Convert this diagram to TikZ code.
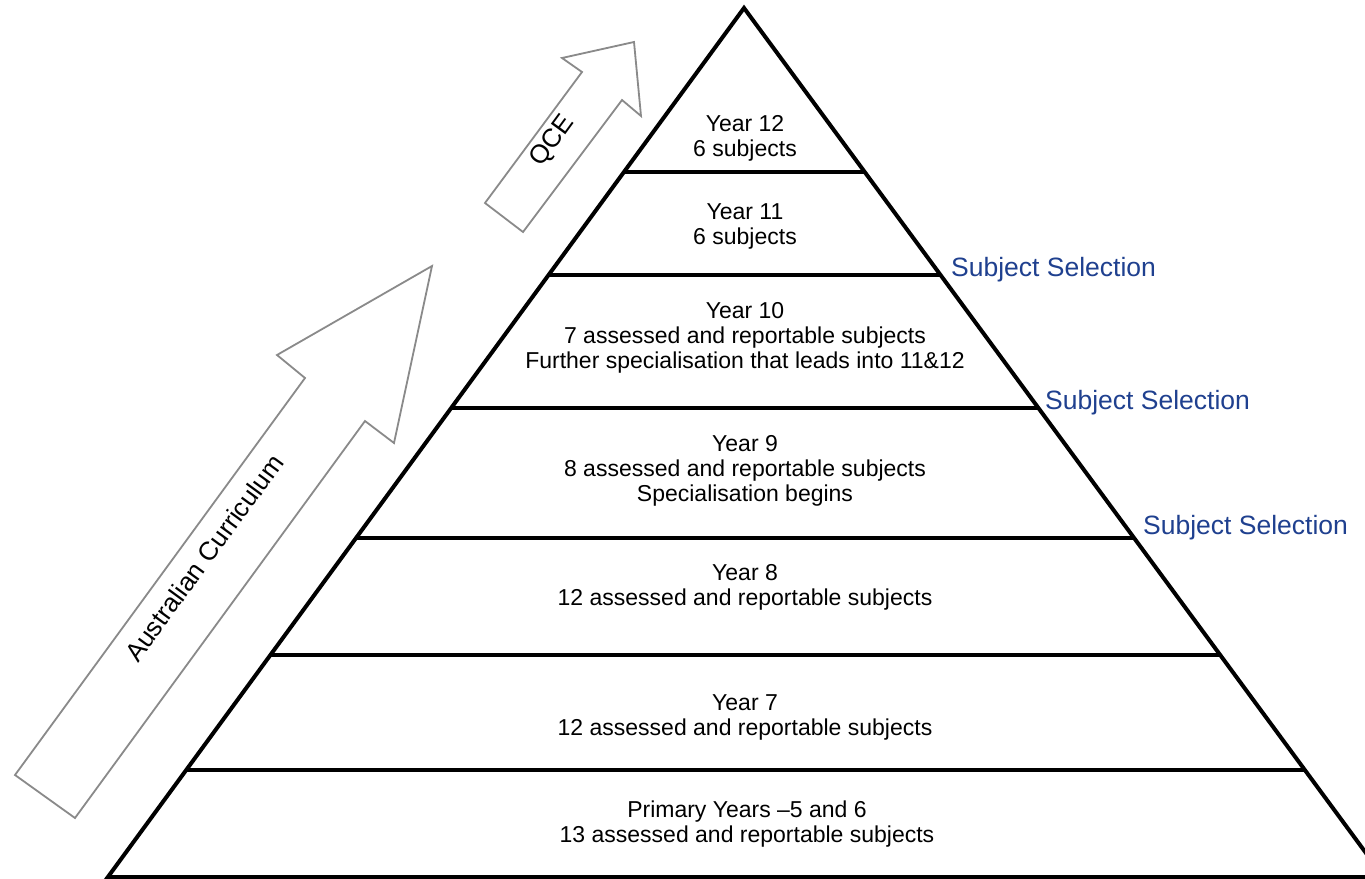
\documentclass[tikz,border=0pt]{standalone}
\usepackage{fontspec}
\setmainfont{Liberation Sans}
\usetikzlibrary{calc}
\definecolor{selblue}{RGB}{31,64,143}
\definecolor{arrowgray}{RGB}{138,138,138}
\begin{document}
\begin{tikzpicture}[x=1pt,y=-1pt,
  pyr/.style={line width=4pt,black},
  bigarrow/.style={draw=arrowgray,line width=1.8pt,line join=miter,fill=white},
  tier/.style={align=center,inner sep=0pt,font=\fontsize{23}{25}\selectfont},
  sel/.style={anchor=west,inner sep=0pt,text=selblue,font=\fontsize{26.5}{30}\selectfont},
  arrowtext/.style={inner sep=0pt,rotate=53.8,font=\fontsize{26}{30}\selectfont}]
\clip (0,0) rectangle (1365,878);
\fill[white] (0,0) rectangle (1365,878);

% Australian Curriculum arrow
\draw[bigarrow] (432,266) -- (277,355) -- (305,378) -- (15,775) -- (75,818) -- (365,421) -- (394,443) -- cycle;
\node[arrowtext] (ac) at (204,558) {Australian Curriculum};

% QCE arrow
\draw[bigarrow] (634,42) -- (562,58) -- (582,72) -- (485,203) -- (523,232) -- (622,100) -- (641,116) -- cycle;
\node[arrowtext] (qce) at (553,141) {QCE};

% pyramid
\coordinate (A) at (744,8);
\coordinate (BL) at (107.9,877);
\coordinate (BR) at (1383.6,877);
\draw[pyr,line join=miter] (A) -- (BL) -- (BR) -- cycle;
\path (A) -- (BL)
  coordinate[pos=0.18872] (l1) coordinate[pos=0.30725] (l2) coordinate[pos=0.46030] (l3)
  coordinate[pos=0.60990] (l4) coordinate[pos=0.74453] (l5) coordinate[pos=0.87687] (l6);
\path (A) -- (BR)
  coordinate[pos=0.18872] (r1) coordinate[pos=0.30725] (r2) coordinate[pos=0.46030] (r3)
  coordinate[pos=0.60990] (r4) coordinate[pos=0.74453] (r5) coordinate[pos=0.87687] (r6);
\foreach \i in {1,...,6} { \draw[pyr] (l\i) -- (r\i); }

% tier texts
\node[tier] (y12) at (745,138.5) {Year 12\\6 subjects};
\node[tier] (y11) at (745,226.5) {Year 11\\6 subjects};
\node[tier] (y10) at (745,338) {Year 10\\7 assessed and reportable subjects\\Further specialisation that leads into 11\&12};
\node[tier] (y9) at (745,471) {Year 9\\8 assessed and reportable subjects\\Specialisation begins};
\node[tier] (y8) at (745,587) {Year 8\\12 assessed and reportable subjects};
\node[tier] (y7) at (745,717) {Year 7\\12 assessed and reportable subjects};
\node[tier] (prim) at (747,824.5) {Primary Years –5 and 6\\13 assessed and reportable subjects};

% subject selection labels
\node[sel] (s1) at (951,270) {Subject Selection};
\node[sel] (s2) at (1045,403) {Subject Selection};
\node[sel] (s3) at (1143,528) {Subject Selection};
\end{tikzpicture}
\end{document}
